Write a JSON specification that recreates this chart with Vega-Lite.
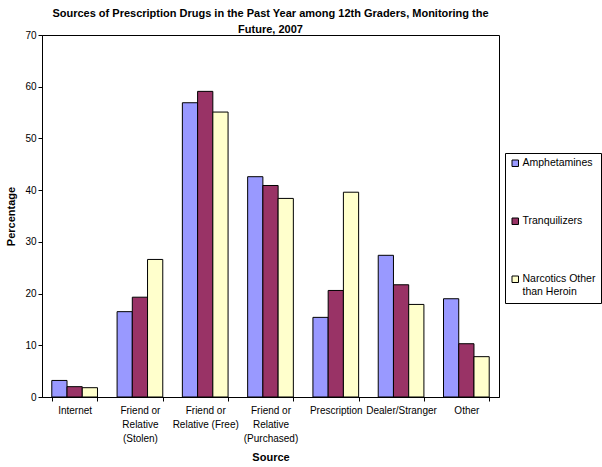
{
  "$schema": "https://vega.github.io/schema/vega-lite/v6.json",
  "width": 457,
  "height": 362,
  "autosize": "none",
  "padding": {"left": 42, "top": 35, "right": 103, "bottom": 70},
  "background": "white",
  "config": {
    "font": "Liberation Sans",
    "view": {"stroke": "black", "strokeWidth": 1}
  },
  "title": {
    "text": ["Sources of Prescription Drugs in the Past Year among 12th Graders, Monitoring the", "Future, 2007"],
    "fontSize": 11,
    "fontWeight": "bold",
    "font": "Liberation Sans",
    "color": "black",
    "anchor": "middle",
    "lineHeight": 16,
    "offset": -5
  },
  "data": {
    "values": [
      {"source": "Internet", "drug": "Amphetamines", "pct": 3.2},
      {"source": "Internet", "drug": "Tranquilizers", "pct": 2.0},
      {"source": "Internet", "drug": "Narcotics Other than Heroin", "pct": 1.8},
      {"source": "Friend or|Relative|(Stolen)", "drug": "Amphetamines", "pct": 16.5},
      {"source": "Friend or|Relative|(Stolen)", "drug": "Tranquilizers", "pct": 19.3},
      {"source": "Friend or|Relative|(Stolen)", "drug": "Narcotics Other than Heroin", "pct": 26.6},
      {"source": "Friend or|Relative (Free)", "drug": "Amphetamines", "pct": 56.9},
      {"source": "Friend or|Relative (Free)", "drug": "Tranquilizers", "pct": 59.1},
      {"source": "Friend or|Relative (Free)", "drug": "Narcotics Other than Heroin", "pct": 55.1},
      {"source": "Friend or|Relative|(Purchased)", "drug": "Amphetamines", "pct": 42.6},
      {"source": "Friend or|Relative|(Purchased)", "drug": "Tranquilizers", "pct": 40.9},
      {"source": "Friend or|Relative|(Purchased)", "drug": "Narcotics Other than Heroin", "pct": 38.4},
      {"source": "Prescription", "drug": "Amphetamines", "pct": 15.4},
      {"source": "Prescription", "drug": "Tranquilizers", "pct": 20.6},
      {"source": "Prescription", "drug": "Narcotics Other than Heroin", "pct": 39.6},
      {"source": "Dealer/Stranger", "drug": "Amphetamines", "pct": 27.4},
      {"source": "Dealer/Stranger", "drug": "Tranquilizers", "pct": 21.7},
      {"source": "Dealer/Stranger", "drug": "Narcotics Other than Heroin", "pct": 17.9},
      {"source": "Other", "drug": "Amphetamines", "pct": 19.0},
      {"source": "Other", "drug": "Tranquilizers", "pct": 10.3},
      {"source": "Other", "drug": "Narcotics Other than Heroin", "pct": 7.8}
    ]
  },
  "mark": {"type": "bar", "stroke": "black", "strokeWidth": 1},
  "encoding": {
    "x": {
      "field": "source",
      "type": "nominal",
      "sort": null,
      "scale": {"paddingInner": 0.3, "paddingOuter": 0.15},
      "axis": {
        "title": "Source",
        "titleFontSize": 11,
        "titleFontWeight": "bold",
        "titleColor": "black",
        "titlePadding": 8,
        "labelAngle": 0,
        "labelFontSize": 10,
        "labelColor": "black",
        "labelLimit": 0,
        "labelOverlap": false,
        "labelPadding": 4,
        "labelLineHeight": 14,
        "labelExpr": "isValid(datum.value) ? split(datum.value, '|') : ''",
        "tickBand": "extent",
        "tickColor": "black",
        "tickSize": 4,
        "domainColor": "black"
      }
    },
    "xOffset": {
      "field": "drug",
      "type": "nominal",
      "sort": ["Amphetamines", "Tranquilizers", "Narcotics Other than Heroin"],
      "scale": {"paddingInner": 0, "paddingOuter": 0}
    },
    "y": {
      "field": "pct",
      "type": "quantitative",
      "scale": {"domain": [0, 70]},
      "axis": {
        "title": "Percentage",
        "titleFontSize": 11,
        "titleFontWeight": "bold",
        "titleColor": "black",
        "titlePadding": 8,
        "values": [0, 10, 20, 30, 40, 50, 60, 70],
        "grid": false,
        "labelFontSize": 10,
        "labelColor": "black",
        "tickColor": "black",
        "tickSize": 4,
        "domainColor": "black"
      }
    },
    "color": {
      "field": "drug",
      "type": "nominal",
      "sort": ["Amphetamines", "Tranquilizers", "Narcotics Other than Heroin"],
      "scale": {
        "domain": ["Amphetamines", "Tranquilizers", "Narcotics Other than Heroin"],
        "range": ["#9999FF", "#993366", "#FFFFCC"]
      },
      "legend": {
        "title": null,
        "orient": "none",
        "legendX": 463,
        "legendY": 118,
        "strokeColor": "black",
        "fillColor": "white",
        "padding": 5,
        "symbolType": "square",
        "symbolSize": 42,
        "symbolStrokeColor": "black",
        "symbolStrokeWidth": 1,
        "labelFontSize": 10.5,
        "labelColor": "black",
        "labelLimit": 0,
        "labelLineHeight": 17,
        "labelExpr": "datum.value == 'Narcotics Other than Heroin' ? ['Narcotics Other', 'than Heroin'] : datum.value",
        "rowPadding": 47,
        "labelOffset": 2
      }
    }
  }
}
